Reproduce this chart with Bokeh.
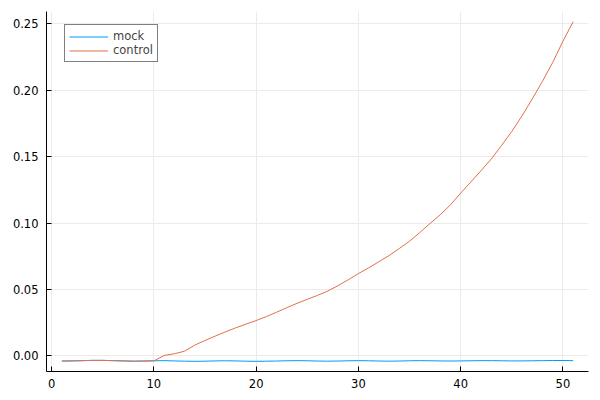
from bokeh.plotting import figure
from bokeh.models import Range1d, FixedTicker, PrintfTickFormatter, Legend, LegendItem
from bokeh.embed import file_html
from bokeh.resources import INLINE

steps = list(range(1, 52))
mock = [-0.0040, -0.0039, -0.0037, -0.0035, -0.0035, -0.0037, -0.0039, -0.0041, -0.0040, -0.0038,
        -0.0037, -0.0039, -0.0041, -0.0042, -0.0041, -0.0039, -0.0038, -0.0039, -0.0041, -0.0042,
        -0.0041, -0.0040, -0.0038, -0.0037, -0.0038, -0.0040, -0.0041, -0.0040, -0.0038, -0.0037,
        -0.0038, -0.0040, -0.0041, -0.0040, -0.0038, -0.0037, -0.0038, -0.0039, -0.0040, -0.0039,
        -0.0038, -0.0037, -0.0037, -0.0038, -0.0039, -0.0039, -0.0038, -0.0037, -0.0036, -0.0036,
        -0.0037]
control = [-0.0040, -0.0039, -0.0037, -0.0035, -0.0035, -0.0037, -0.0039, -0.0041, -0.0040, -0.0039,
           0.0002, 0.0015, 0.0034, 0.0080, 0.0115, 0.0148, 0.0180, 0.0210, 0.0238, 0.0265,
           0.0295, 0.0328, 0.0362, 0.0395, 0.0425, 0.0455, 0.0487, 0.0528, 0.0572, 0.0619,
           0.0662, 0.0708, 0.0755, 0.0808, 0.0863, 0.0928, 0.0996, 0.1062, 0.1137, 0.1225,
           0.1310, 0.1395, 0.1483, 0.1585, 0.1690, 0.1808, 0.1935, 0.2068, 0.2210, 0.2370,
           0.2517]
x_ticks = [0, 10, 20, 30, 40, 50]
y_ticks = [0.0, 0.05, 0.10, 0.15, 0.20, 0.25]
series_names = ["mock", "control"]
series_colors = ["#009AFA", "#E36F47"]

xmin, xmax = min(steps), max(steps)
xpad = 0.03 * (xmax - xmin)
allv = mock + control
ymin, ymax = min(allv), max(allv)
ypad = 0.03 * (ymax - ymin)

p = figure(width=600, height=400, output_backend="svg", toolbar_location=None,
           x_range=Range1d(xmin - xpad, xmax + xpad),
           y_range=Range1d(ymin - ypad, ymax + ypad),
           min_border_left=46, min_border_right=12, min_border_top=11, min_border_bottom=29)
p.outline_line_color = None
p.background_fill_color = "white"
p.border_fill_color = "white"

renderers = []
for vals, name, col in zip([mock, control], series_names, series_colors):
    r = p.line(steps, vals, line_color=col, line_width=1)
    renderers.append((name, r))

for ax, ticks in ((p.xaxis, x_ticks), (p.yaxis, y_ticks)):
    ax.ticker = FixedTicker(ticks=ticks)
    ax.major_label_text_font = "DejaVu Sans"
    ax.major_label_text_font_size = "11.5px"
    ax.major_label_text_color = "black"
    ax.axis_line_color = "black"
    ax.axis_line_width = 1
    ax.major_tick_line_color = "black"
    ax.major_tick_in = 5
    ax.major_tick_out = 0
    ax.minor_tick_line_color = None
p.yaxis.formatter = PrintfTickFormatter(format="%.2f")
p.yaxis.major_label_standoff = 8
p.xaxis.major_label_standoff = 7

p.grid.grid_line_color = "#ebebeb"
p.grid.grid_line_width = 1
p.xgrid.ticker = FixedTicker(ticks=x_ticks)
p.ygrid.ticker = FixedTicker(ticks=y_ticks)

legend = Legend(items=[LegendItem(label=n, renderers=[r]) for n, r in renderers],
                location=(18, 309))
legend.label_text_font = "DejaVu Sans"
legend.label_text_font_size = "11.5px"
legend.label_text_line_height = 1.0
legend.label_height = 13
legend.glyph_height = 13
legend.glyph_width = 39
legend.label_standoff = 5
legend.padding = 4
legend.spacing = 0
legend.margin = 0
legend.border_line_color = "black"
legend.border_line_width = 1
legend.background_fill_color = "white"
legend.background_fill_alpha = 1
p.add_layout(legend)

open("out.html", "w").write(file_html(p, INLINE))
